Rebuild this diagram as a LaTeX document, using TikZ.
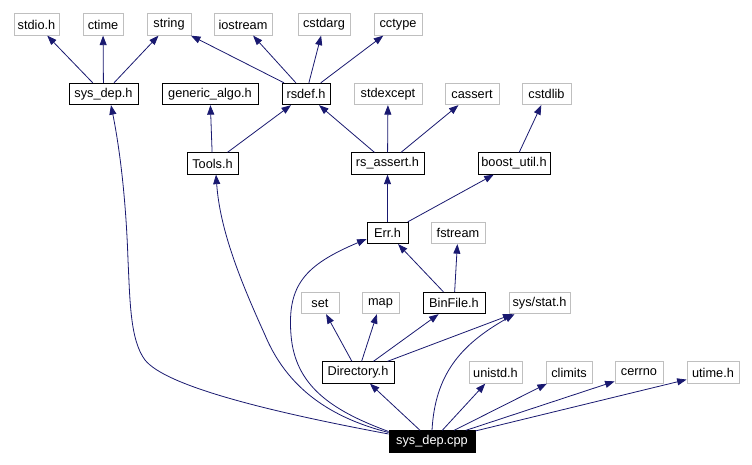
\documentclass[tikz,border=0pt]{standalone}
\usepackage{fontspec}
\setmainfont{Liberation Sans}
\usetikzlibrary{arrows.meta}
\definecolor{edgeblue}{HTML}{191970}
\definecolor{sysgray}{HTML}{BFBFBF}
\begin{document}
\begin{tikzpicture}[x=1bp,y=-1bp,
  box/.style={draw=black, line width=0.8bp, inner sep=0pt, minimum height=21.5bp,
    font=\fontsize{12.8}{14}\selectfont},
  sysbox/.style={box, draw=sysgray},
  rootbox/.style={box, fill=black, text=white},
  dep/.style={draw=edgeblue, line width=0.8bp, -{Triangle[length=9.5bp,width=7bp]}}]
\useasboundingbox[fill=white] (0,0) rectangle (752,465);
% row 1
\node[sysbox, minimum width=45bp] (stdio) at (36.5,24.5) {stdio.h};
\node[sysbox, minimum width=40bp] (ctime) at (103,24.5) {ctime};
\node[sysbox, minimum width=44bp] (string) at (169,24.5) {string};
\node[sysbox, minimum width=58bp] (iostream) at (243,24.5) {iostream};
\node[sysbox, minimum width=52bp] (cstdarg) at (324,24.5) {cstdarg};
\node[sysbox, minimum width=48bp] (cctype) at (398,24.5) {cctype};
% row 2
\node[box, minimum width=69bp] (sysdeph) at (103.5,94) {sys\_dep.h};
\node[box, minimum width=96bp] (generic) at (210,94) {generic\_algo.h};
\node[box, minimum width=48bp] (rsdef) at (306,94) {rsdef.h};
\node[sysbox, minimum width=68bp] (stdexcept) at (388,94) {stdexcept};
\node[sysbox, minimum width=54bp] (cassert) at (472,94) {cassert};
\node[sysbox, minimum width=49bp] (cstdlib) at (546.5,94) {cstdlib};
% row 3
\node[box, minimum width=51bp] (tools) at (212.5,163.5) {Tools.h};
\node[box, minimum width=73bp] (rsassert) at (387.5,163.5) {rs\_assert.h};
\node[box, minimum width=72bp] (boost) at (514,163.5) {boost\_util.h};
% row 4
\node[box, minimum width=41bp] (err) at (387.5,233) {Err.h};
\node[sysbox, minimum width=54bp] (fstream) at (458,233) {fstream};
% row 5
\node[sysbox, minimum width=38bp] (set) at (320,303) {set};
\node[sysbox, minimum width=37bp] (map) at (380.5,303) {map};
\node[box, minimum width=62bp] (binfile) at (454,303) {BinFile.h};
\node[sysbox, minimum width=61bp] (sysstat) at (539.5,303) {sys/stat.h};
% row 6
\node[box, minimum width=72bp] (directory) at (358,372.5) {Directory.h};
\node[sysbox, minimum width=53bp] (unistd) at (495.5,372.5) {unistd.h};
\node[sysbox, minimum width=46bp] (climits) at (569,372.5) {climits};
\node[sysbox, minimum width=48bp] (cerrno) at (639,372.5) {cerrno};
\node[sysbox, minimum width=52bp] (utime) at (713,372.5) {utime.h};
% root
\node[rootbox, minimum width=86bp] (cpp) at (432,441.5) {sys\_dep.cpp};

% edges
\draw[dep] (sysdeph) -- (stdio);
\draw[dep] (sysdeph) -- (ctime);
\draw[dep] (sysdeph) -- (string);
\draw[dep] (rsdef) -- (string);
\draw[dep] (rsdef) -- (iostream);
\draw[dep] (rsdef) -- (cstdarg);
\draw[dep] (rsdef) -- (cctype);
\draw[dep] (tools) -- (generic);
\draw[dep] (tools) -- (rsdef);
\draw[dep] (rsassert) -- (rsdef);
\draw[dep] (rsassert) -- (stdexcept);
\draw[dep] (rsassert) -- (cassert);
\draw[dep] (boost) -- (cstdlib);
\draw[dep] (err) -- (rsassert);
\draw[dep] (err) -- (boost);
\draw[dep] (binfile) -- (err);
\draw[dep] (binfile) -- (fstream);
\draw[dep] (directory) -- (set);
\draw[dep] (directory) -- (map);
\draw[dep] (directory) -- (binfile);
\draw[dep] (directory) -- ([xshift=-27bp]sysstat.south);
\draw[dep] (cpp) -- (directory);
\draw[dep] (cpp) -- (unistd);
\draw[dep] (cpp) -- (climits);
\draw[dep] (cpp) -- (cerrno.200);
\draw[dep] (cpp) -- (utime.195);
\draw[dep] (cpp.north) .. controls (435,375) and (460,345) .. ([xshift=-25bp]sysstat.south);
\draw[dep] ([yshift=7.5bp]cpp.west) .. controls (260,410) and (165,385) .. (145,360)
  .. controls (130,340) and (130,300) .. (128,260)
  .. controls (126,200) and (120,150) .. ([xshift=7.5bp]sysdeph.south);
\draw[dep] ([yshift=9bp]cpp.west) .. controls (340,420) and (290,395) .. (265,335)
  .. controls (240,280) and (220,230) .. ([xshift=3.5bp]tools.south);
\draw[dep] ([yshift=10bp]cpp.west) .. controls (330,410) and (295,385) .. (291,335)
  .. controls (287,285) and (305,265) .. ([yshift=-6bp]err.west);
\end{tikzpicture}
\end{document}
